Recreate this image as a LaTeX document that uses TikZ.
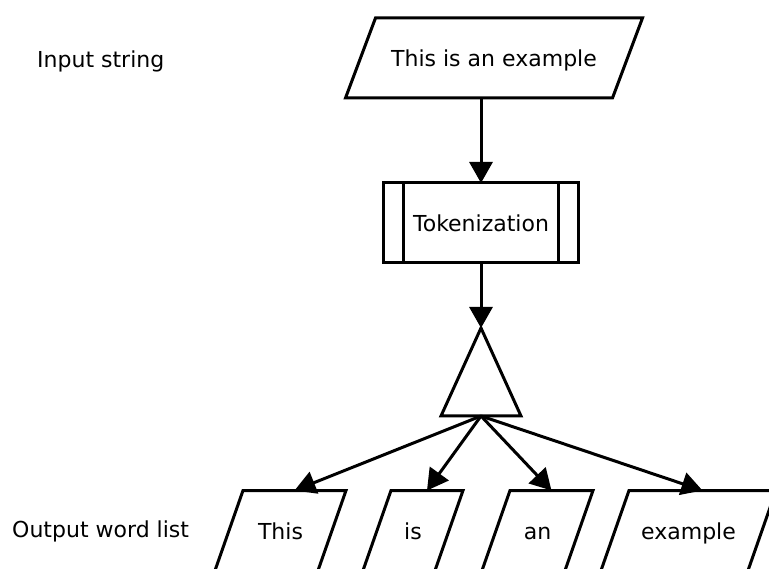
\documentclass[tikz,border=0pt]{standalone}
\usepackage{fontspec}
\setmainfont{DejaVu Sans}
\usetikzlibrary{arrows.meta}
\begin{document}
\begin{tikzpicture}[x=1pt,y=-1pt,
  every node/.style={font=\fontsize{22}{26}\selectfont},
  line/.style={line width=3pt},
  arr/.style={line, -{Triangle[length=21pt,width=23pt]}},
  slot/.style={inner sep=0pt, outer sep=0pt, minimum height=80pt,
               text height=20pt, text depth=2pt},
  label/.style={anchor=base west, inner sep=0pt}
]
\fill[white] (0,0) rectangle (769,569);
\useasboundingbox (0,0) rectangle (769,569);

% side labels
\node[label] (lin) at (37,68) {Input string};
\node[label] (lout) at (12,537) {Output word list};

% input data (parallelogram)
\node[slot, minimum width=267pt] (input) at (494,58) {This is an example};
\draw[line] ([xshift=15pt]input.north west) -- ([xshift=15pt]input.north east)
  -- ([xshift=-15pt]input.south east) -- ([xshift=-15pt]input.south west) -- cycle;

% predefined process
\node[slot, draw, line, minimum width=195pt] (tok) at (481,223) {Tokenization};
\draw[line] ([xshift=20pt]tok.north west) -- ([xshift=20pt]tok.south west);
\draw[line] ([xshift=-20pt]tok.north east) -- ([xshift=-20pt]tok.south east);

% split (triangle)
\coordinate (apex) at (481,328);
\coordinate (bl) at (441,416);
\coordinate (br) at (521,416);
\coordinate (base) at (481,416);
\draw[line] (apex) -- (bl) -- (br) -- cycle;

% output words
\foreach \n/\x/\w/\t in {w1/280.5/103/This, w2/413/72/is, w3/537.5/83/an, w4/688.5/147/example}{
  \node[slot, minimum width=\w pt] (\n) at (\x,530.5) {\t};
  \draw[line] ([xshift=14pt]\n.north west) -- ([xshift=14pt]\n.north east)
    -- ([xshift=-14pt]\n.south east) -- ([xshift=-14pt]\n.south west) -- cycle;
}

% connectors
\draw[arr] (input.south -| tok.north) -- (tok.north);
\draw[arr] (tok.south) -- (apex);
\foreach \n in {w1,w2,w3,w4}{
  \draw[arr] (base) -- ([xshift=14pt]\n.north);
}
\end{tikzpicture}
\end{document}
